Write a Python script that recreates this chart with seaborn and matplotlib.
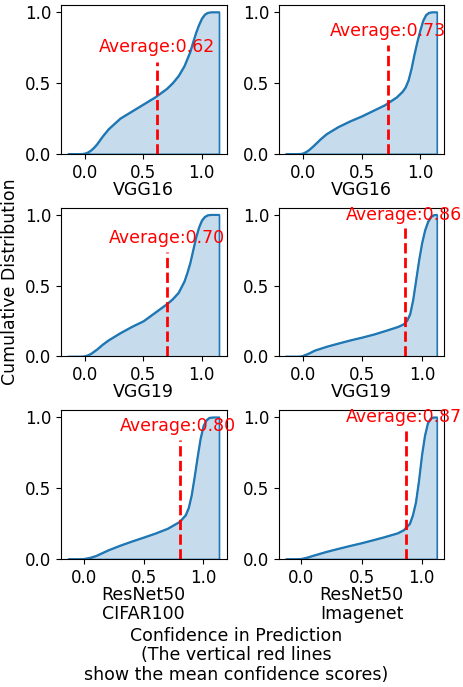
import numpy as np
import pandas as pd
import matplotlib
matplotlib.use("Agg")
import matplotlib.pyplot as plt
import seaborn as sns

# cumulative distribution, one list pair per panel
conf_vgg16_a = [-0.143, -0.05, -0.02, 0.0, 0.025, 0.05, 0.075, 0.1, 0.15, 0.2, 0.3, 0.4, 0.5, 0.6, 0.7, 0.75,
                0.8, 0.85, 0.875, 0.9, 0.925, 0.95, 0.975, 1.0, 1.025, 1.05, 1.08, 1.148]
cdf_vgg16_a = [0, 0, 0.001, 0.004, 0.012, 0.026, 0.045, 0.068, 0.125, 0.175, 0.25, 0.30, 0.35, 0.40, 0.46, 0.50,
               0.55, 0.62, 0.67, 0.72, 0.79, 0.855, 0.91, 0.955, 0.983, 0.996, 1.0, 1.0]

conf_vgg16_b = [-0.143, -0.05, -0.02, 0.0, 0.025, 0.05, 0.075, 0.1, 0.15, 0.2, 0.3, 0.4, 0.5, 0.6, 0.7, 0.8,
                0.85, 0.875, 0.9, 0.925, 0.95, 0.975, 1.0, 1.025, 1.05, 1.075, 1.1, 1.143]
cdf_vgg16_b = [0, 0, 0.001, 0.004, 0.014, 0.028, 0.046, 0.065, 0.105, 0.14, 0.19, 0.23, 0.265, 0.305, 0.345, 0.40,
               0.44, 0.47, 0.52, 0.60, 0.70, 0.79, 0.87, 0.94, 0.98, 0.996, 1.0, 1.0]

conf_vgg19_a = [-0.143, -0.05, -0.02, 0.0, 0.025, 0.05, 0.1, 0.15, 0.2, 0.3, 0.4, 0.5, 0.6, 0.7, 0.75, 0.8,
                0.85, 0.875, 0.9, 0.925, 0.95, 0.975, 1.0, 1.025, 1.05, 1.08, 1.148]
cdf_vgg19_a = [0, 0, 0.001, 0.003, 0.01, 0.02, 0.05, 0.085, 0.115, 0.165, 0.21, 0.25, 0.31, 0.37, 0.405, 0.45,
               0.53, 0.59, 0.66, 0.75, 0.84, 0.91, 0.96, 0.985, 0.997, 1.0, 1.0]

conf_vgg19_b = [-0.139, -0.05, -0.02, 0.0, 0.025, 0.05, 0.1, 0.2, 0.3, 0.4, 0.5, 0.6, 0.7, 0.8, 0.85, 0.875,
                0.9, 0.925, 0.95, 0.975, 1.0, 1.025, 1.05, 1.075, 1.1, 1.125]
cdf_vgg19_b = [0, 0, 0.001, 0.005, 0.013, 0.022, 0.043, 0.07, 0.093, 0.115, 0.135, 0.157, 0.183, 0.21, 0.23, 0.255,
               0.30, 0.40, 0.54, 0.68, 0.80, 0.89, 0.95, 0.985, 0.998, 1.0]

conf_resnet_cifar = [-0.131, -0.05, -0.02, 0.0, 0.05, 0.1, 0.2, 0.3, 0.4, 0.5, 0.6, 0.7, 0.8, 0.85, 0.875,
                     0.9, 0.925, 0.95, 0.975, 1.0, 1.025, 1.05, 1.08, 1.131]
cdf_resnet_cifar = [0, 0, 0.001, 0.002, 0.01, 0.023, 0.062, 0.095, 0.125, 0.153, 0.182, 0.215, 0.263, 0.31, 0.36,
                    0.45, 0.58, 0.72, 0.85, 0.94, 0.98, 0.997, 1.0, 1.0]

conf_resnet_imagenet = [-0.125, -0.05, -0.02, 0.0, 0.05, 0.1, 0.2, 0.3, 0.4, 0.5, 0.6, 0.7, 0.8, 0.85, 0.9,
                        0.925, 0.95, 0.975, 1.0, 1.025, 1.05, 1.075, 1.1, 1.125]
cdf_resnet_imagenet = [0, 0, 0.001, 0.002, 0.012, 0.025, 0.05, 0.072, 0.093, 0.113, 0.135, 0.158, 0.183, 0.205, 0.25,
                       0.31, 0.40, 0.55, 0.73, 0.87, 0.96, 0.993, 1.0, 1.0]

panel_labels = ["VGG16", "VGG16", "VGG19", "VGG19", "ResNet50\nCIFAR100", "ResNet50\nImagenet"]
mean_scores = [0.62, 0.73, 0.70, 0.86, 0.80, 0.87]

curves = [
    (conf_vgg16_a, cdf_vgg16_a),
    (conf_vgg16_b, cdf_vgg16_b),
    (conf_vgg19_a, cdf_vgg19_a),
    (conf_vgg19_b, cdf_vgg19_b),
    (conf_resnet_cifar, cdf_resnet_cifar),
    (conf_resnet_imagenet, cdf_resnet_imagenet),
]

plt.rcParams["font.size"] = 12.5
blue = sns.color_palette()[0]

fig, axes = plt.subplots(3, 2, figsize=(4.63, 6.87), dpi=100)
fig.subplots_adjust(left=0.1318, right=0.9596, top=0.9927, bottom=0.1863,
                    wspace=0.316, hspace=0.361)

for ax, (xs, ys), label, mean in zip(axes.flat, curves, panel_labels, mean_scores):
    df = pd.DataFrame({"confidence": xs, "cdf": ys})
    sns.lineplot(data=df, x="confidence", y="cdf", ax=ax, color=blue, linewidth=1.2)
    ax.fill_between(df["confidence"], df["cdf"], facecolor=(*blue, 0.25),
                    edgecolor=blue, linewidth=1.2)
    ax.axvline(mean, ymin=0, ymax=mean, color="red", linestyle="--", linewidth=2)
    ax.text(mean - 0.5, mean + 0.1, f"Average:{mean:.2f}", color="red", fontsize=12.5)
    ax.set_ylim(0, 1.05)
    ax.set_xticks([0.0, 0.5, 1.0])
    ax.set_yticks([0.0, 0.5, 1.0])
    ax.tick_params(labelsize=12)
    ax.set_xlabel(label, fontsize=12.5, labelpad=-0.5, linespacing=1.1)
    ax.set_ylabel("")

axes[1, 0].set_ylabel("Cumulative Distribution", fontsize=12.5)

fig.text(0.511, 0.005,
         "Confidence in Prediction\n(The vertical red lines\nshow the mean confidence scores)",
         ha="center", va="bottom", multialignment="center", fontsize=12.5, linespacing=1.1)

fig.savefig("out.png", dpi=100)
